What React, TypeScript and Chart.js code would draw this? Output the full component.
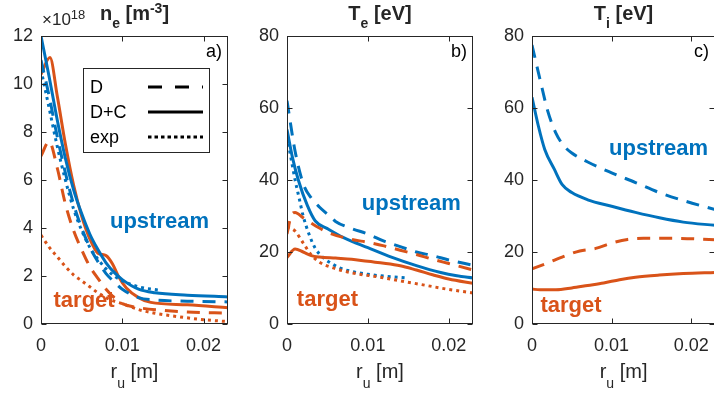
import React, { useEffect, useRef } from "react";
import { Chart, registerables } from "chart.js";

Chart.register(...registerables);

const BLUE = "#0072BD";
const ORANGE = "#D95319";
const INK = "#262626";
const FONT = "'Liberation Sans', Arial, Helvetica, sans-serif";

// shared x axis (r_u in m)
const X_MAX = 0.023;
const X_TICKS = [0, 0.01, 0.02];
const X_TICK_LABELS = ["0", "0.01", "0.02"];

const NE_TICKS = [0, 2, 4, 6, 8, 10, 12];
const NE_TICK_LABELS = ["0", "2", "4", "6", "8", "10", "12"];
const T_TICKS = [0, 20, 40, 60, 80];
const T_TICK_LABELS = ["0", "20", "40", "60", "80"];

// ---------- (a) n_e  [x 1e18 m^-3] ----------
const A_UP_D_X = [0, 0.001, 0.002, 0.003, 0.004, 0.005, 0.006, 0.007, 0.008, 0.009, 0.010, 0.012, 0.014, 0.018, 0.023];
const A_UP_D_Y = [11.0, 9.5, 7.8, 6.3, 5.0, 4.0, 3.2, 2.6, 2.1, 1.75, 1.45, 1.1, 1.0, 0.95, 0.92];
const A_UP_DC_X = [0, 0.001, 0.002, 0.003, 0.004, 0.005, 0.006, 0.007, 0.008, 0.009, 0.010, 0.012, 0.014, 0.018, 0.023];
const A_UP_DC_Y = [12.0, 10.3, 8.5, 6.9, 5.6, 4.6, 3.75, 3.1, 2.55, 2.15, 1.85, 1.45, 1.3, 1.2, 1.13];
const A_UP_EXP_X = [0, 0.001, 0.002, 0.003, 0.004, 0.005, 0.006, 0.007, 0.008, 0.009, 0.010, 0.012, 0.0148];
const A_UP_EXP_Y = [10.6, 9.0, 7.4, 6.0, 4.8, 3.9, 3.2, 2.7, 2.3, 2.0, 1.8, 1.55, 1.4];
const A_TG_D_X = [0, 0.001, 0.002, 0.003, 0.004, 0.005, 0.006, 0.007, 0.008, 0.009, 0.010, 0.012, 0.015, 0.018, 0.023];
const A_TG_D_Y = [7.0, 7.6, 6.5, 5.0, 3.9, 3.1, 2.4, 1.9, 1.45, 1.1, 0.85, 0.68, 0.57, 0.5, 0.45];
const A_TG_DC_X = [0, 0.0011, 0.002, 0.003, 0.004, 0.005, 0.006, 0.007, 0.008, 0.0088, 0.0095, 0.0105, 0.012, 0.0135, 0.018, 0.023];
const A_TG_DC_Y = [10.4, 11.1, 9.5, 7.5, 5.8, 4.5, 3.55, 2.95, 2.85, 2.5, 2.0, 1.5, 1.1, 0.9, 0.8, 0.68];
const A_TG_EXP_X = [0, 0.001, 0.002, 0.003, 0.004, 0.005, 0.006, 0.007, 0.008, 0.009, 0.010, 0.012, 0.014, 0.017, 0.020, 0.023];
const A_TG_EXP_Y = [3.7, 3.2, 2.8, 2.4, 2.05, 1.8, 1.55, 1.3, 1.1, 0.95, 0.85, 0.6, 0.45, 0.3, 0.18, 0.1];

// ---------- (b) T_e [eV] ----------
const B_UP_D_X = [0, 0.001, 0.002, 0.003, 0.004, 0.005, 0.006, 0.008, 0.010, 0.012, 0.014, 0.016, 0.018, 0.020, 0.023];
const B_UP_D_Y = [62, 48, 39, 35, 32.5, 30.5, 28.5, 26.5, 25, 23, 21.5, 20, 19, 17.8, 16.3];
const B_UP_DC_X = [0, 0.0007, 0.0014, 0.0025, 0.0035, 0.005, 0.007, 0.010, 0.013, 0.016, 0.019, 0.021, 0.023];
const B_UP_DC_Y = [54, 46, 40, 33, 28.6, 26.5, 24, 21.2, 18.5, 16.2, 14.3, 13.4, 12.8];
const B_UP_EXP_X = [0, 0.0005, 0.001, 0.0015, 0.002, 0.0028, 0.0035, 0.0045, 0.0055, 0.0065, 0.008, 0.010, 0.012, 0.0148];
const B_UP_EXP_Y = [52, 46, 40, 35, 30, 24.5, 21, 18.4, 16.8, 15.6, 14.6, 13.8, 13.3, 12.8];
const B_TG_D_X = [0, 0.0005, 0.001, 0.002, 0.003, 0.005, 0.008, 0.010, 0.012, 0.014, 0.016, 0.018, 0.020, 0.023];
const B_TG_D_Y = [25, 30, 31, 29.5, 28, 25.5, 23.5, 22.7, 21.7, 20.5, 19.3, 18, 16.8, 15];
const B_TG_DC_X = [0, 0.001, 0.002, 0.003, 0.004, 0.006, 0.008, 0.010, 0.012, 0.014, 0.016, 0.018, 0.020, 0.023];
const B_TG_DC_Y = [18.5, 20.8, 20, 19, 18.6, 18.3, 18, 17.4, 16.9, 16.2, 15, 13.7, 12.5, 11.3];
const B_TG_EXP_X = [0, 0.001, 0.002, 0.003, 0.004, 0.0057, 0.008, 0.0115, 0.014, 0.017, 0.020, 0.023];
const B_TG_EXP_Y = [27, 25.8, 22.5, 19.2, 17.2, 15.6, 14.2, 13, 12, 10.8, 9.6, 8.6];

// ---------- (c) T_i [eV] ----------
const C_UP_D_X = [0, 0.001, 0.002, 0.003, 0.004, 0.005, 0.007, 0.010, 0.013, 0.016, 0.019, 0.023];
const C_UP_D_Y = [77.5, 68, 59, 53, 49.5, 47.5, 45, 42, 39.3, 36.5, 34.3, 31.8];
const C_UP_DC_X = [0, 0.0008, 0.0016, 0.0028, 0.0038, 0.005, 0.007, 0.010, 0.013, 0.016, 0.019, 0.023];
const C_UP_DC_Y = [63, 55, 48.5, 43, 38.7, 36.5, 34.5, 32.7, 31, 29.5, 28.3, 27.4];
const C_TG_D_X = [0, 0.002, 0.004, 0.006, 0.008, 0.010, 0.012, 0.014, 0.018, 0.023];
const C_TG_D_Y = [15.3, 17, 18.8, 20.3, 21, 22.5, 23.5, 23.8, 23.8, 23.4];
const C_TG_DC_X = [0, 0.001, 0.003, 0.005, 0.007, 0.009, 0.011, 0.013, 0.016, 0.019, 0.023];
const C_TG_DC_Y = [9.7, 9.5, 9.5, 10, 10.7, 11.4, 12.3, 13, 13.6, 14, 14.3];

const LEGEND_LABELS = ["D", "D+C", "exp"];
const LEGEND_STYLES = ["D", "DC", "exp"];

type Style = "D" | "DC" | "exp";
const DASH: Record<Style, number[]> = { D: [13, 9], DC: [], exp: [3, 4] };
const LEGEND_DASH: Record<Style, number[]> = { D: [14, 13], DC: [], exp: [3.5, 3] };

type Series = { x: number[]; y: number[]; color: string; style: Style };
type Seg = { t: string; size: number; bold?: boolean; dy?: number; color?: string };
type Ann = { text: string; x: number; y: number; color: string };

type Panel = {
  left: number;
  width: number;
  yAxisW: number;
  padRight: number;
  yMax: number;
  yTicks: number[];
  yTickLabels: string[];
  series: Series[];
  title: Seg[];
  tag: string;
  anns: Ann[];
  legend?: boolean;
  exponent?: boolean;
};

const PANELS: Panel[] = [
  {
    left: 0, width: 240, yAxisW: 41, padRight: 12, yMax: 12,
    yTicks: NE_TICKS, yTickLabels: NE_TICK_LABELS,
    series: [
      { x: A_TG_D_X, y: A_TG_D_Y, color: ORANGE, style: "D" },
      { x: A_TG_EXP_X, y: A_TG_EXP_Y, color: ORANGE, style: "exp" },
      { x: A_UP_D_X, y: A_UP_D_Y, color: BLUE, style: "D" },
      { x: A_UP_EXP_X, y: A_UP_EXP_Y, color: BLUE, style: "exp" },
      { x: A_UP_DC_X, y: A_UP_DC_Y, color: BLUE, style: "DC" },
      { x: A_TG_DC_X, y: A_TG_DC_Y, color: ORANGE, style: "DC" },
    ],
    title: [
      { t: "n", size: 20, bold: true },
      { t: "e", size: 14, bold: true, dy: 8 },
      { t: " [m", size: 20, bold: true },
      { t: "-3", size: 14, bold: true, dy: -7 },
      { t: "]", size: 20, bold: true },
    ],
    tag: "a)",
    anns: [
      { text: "upstream", x: 0.01457, y: 4.0, color: BLUE },
      { text: "target", x: 0.0053, y: 0.7, color: ORANGE },
    ],
    legend: true,
    exponent: true,
  },
  {
    left: 240, width: 240, yAxisW: 47, padRight: 7, yMax: 80,
    yTicks: T_TICKS, yTickLabels: T_TICK_LABELS,
    series: [
      { x: B_TG_D_X, y: B_TG_D_Y, color: ORANGE, style: "D" },
      { x: B_TG_EXP_X, y: B_TG_EXP_Y, color: ORANGE, style: "exp" },
      { x: B_TG_DC_X, y: B_TG_DC_Y, color: ORANGE, style: "DC" },
      { x: B_UP_D_X, y: B_UP_D_Y, color: BLUE, style: "D" },
      { x: B_UP_EXP_X, y: B_UP_EXP_Y, color: BLUE, style: "exp" },
      { x: B_UP_DC_X, y: B_UP_DC_Y, color: BLUE, style: "DC" },
    ],
    title: [
      { t: "T", size: 20, bold: true },
      { t: "e", size: 14, bold: true, dy: 8 },
      { t: " [eV]", size: 20, bold: true },
    ],
    tag: "b)",
    anns: [
      { text: "upstream", x: 0.01537, y: 31.7, color: BLUE },
      { text: "target", x: 0.005, y: 5, color: ORANGE },
    ],
  },
  {
    left: 480, width: 240, yAxisW: 52, padRight: 2, yMax: 80,
    yTicks: T_TICKS, yTickLabels: T_TICK_LABELS,
    series: [
      { x: C_TG_D_X, y: C_TG_D_Y, color: ORANGE, style: "D" },
      { x: C_TG_DC_X, y: C_TG_DC_Y, color: ORANGE, style: "DC" },
      { x: C_UP_D_X, y: C_UP_D_Y, color: BLUE, style: "D" },
      { x: C_UP_DC_X, y: C_UP_DC_Y, color: BLUE, style: "DC" },
    ],
    title: [
      { t: "T", size: 20, bold: true },
      { t: "i", size: 14, bold: true, dy: 8 },
      { t: " [eV]", size: 20, bold: true },
    ],
    tag: "c)",
    anns: [
      { text: "upstream", x: 0.0159, y: 46.9, color: BLUE },
      { text: "target", x: 0.0049, y: 3.3, color: ORANGE },
    ],
  },
];

const XLABEL: Seg[] = [
  { t: "r", size: 20 },
  { t: "u", size: 14, dy: 10 },
  { t: " [m]", size: 20 },
];

function font(size: number, bold?: boolean) {
  return `${bold ? "bold " : ""}${size}px ${FONT}`;
}

function drawRich(ctx: CanvasRenderingContext2D, segs: Seg[], x: number, y: number, align: "center" | "left") {
  const widths = segs.map((s) => {
    ctx.font = font(s.size, s.bold);
    return ctx.measureText(s.t).width;
  });
  const total = widths.reduce((a, b) => a + b, 0);
  let cx = align === "center" ? x - total / 2 : x;
  ctx.textAlign = "left";
  ctx.textBaseline = "alphabetic";
  segs.forEach((s, i) => {
    ctx.font = font(s.size, s.bold);
    ctx.fillStyle = s.color || INK;
    ctx.fillText(s.t, cx, y + (s.dy || 0));
    cx += widths[i];
  });
}

function decorPlugin(p: Panel) {
  return {
    id: "decor",
    afterDraw(chart: any) {
      const ctx: CanvasRenderingContext2D = chart.ctx;
      const ca = chart.chartArea;
      const xs = chart.scales.x;
      const ys = chart.scales.y;
      ctx.save();
      // annotations
      p.anns.forEach((a) => {
        ctx.font = font(22, true);
        ctx.fillStyle = a.color;
        ctx.textAlign = "center";
        ctx.textBaseline = "alphabetic";
        ctx.fillText(a.text, xs.getPixelForValue(a.x), ys.getPixelForValue(a.y));
      });
      // box
      ctx.strokeStyle = INK;
      ctx.lineWidth = 1;
      ctx.setLineDash([]);
      const L = Math.round(ca.left) + 0.5;
      const R = Math.round(ca.right) - 0.5;
      const T = Math.round(ca.top) + 0.5;
      const B = Math.round(ca.bottom) - 0.5;
      ctx.strokeRect(L, T, R - L, B - T);
      ctx.beginPath();
      X_TICKS.forEach((v) => {
        const px = Math.round(xs.getPixelForValue(v)) + 0.5;
        ctx.moveTo(px, B); ctx.lineTo(px, B - 5);
        ctx.moveTo(px, T); ctx.lineTo(px, T + 5);
      });
      p.yTicks.forEach((v) => {
        const py = Math.round(ys.getPixelForValue(v)) + 0.5;
        ctx.moveTo(L, py); ctx.lineTo(L + 5, py);
        ctx.moveTo(R, py); ctx.lineTo(R - 5, py);
      });
      ctx.stroke();
      // title
      const mid = (ca.left + ca.right) / 2;
      drawRich(ctx, p.title, mid, 20, "center");
      // x label
      drawRich(ctx, XLABEL, mid, 378, "center");
      // panel tag
      ctx.font = font(18);
      ctx.fillStyle = "#000";
      ctx.textAlign = "right";
      ctx.textBaseline = "alphabetic";
      ctx.fillText(p.tag, ca.right - 6, ca.top + 21);
      // exponent
      if (p.exponent) {
        drawRich(ctx, [
          { t: "\u00d710", size: 17 },
          { t: "18", size: 13, dy: -6 },
        ], ca.left + 1, 25, "left");
      }
      // legend
      if (p.legend) {
        const lx = ca.left + 42, ly = ca.top + 32, lw = 126, lh = 84;
        ctx.fillStyle = "#fff";
        ctx.fillRect(lx, ly, lw, lh);
        ctx.strokeStyle = INK;
        ctx.lineWidth = 1;
        ctx.strokeRect(lx + 0.5, ly + 0.5, lw, lh);
        LEGEND_LABELS.forEach((lab, i) => {
          const cy = ly + 19 + i * 25;
          ctx.font = font(18);
          ctx.fillStyle = "#000";
          ctx.textAlign = "left";
          ctx.textBaseline = "alphabetic";
          ctx.fillText(lab, lx + 7, cy + 6);
          ctx.beginPath();
          ctx.strokeStyle = "#000";
          ctx.lineWidth = 3;
          ctx.lineCap = "butt";
          ctx.setLineDash(LEGEND_DASH[LEGEND_STYLES[i] as Style]);
          ctx.moveTo(lx + 65, cy);
          ctx.lineTo(lx + 120, cy);
          ctx.stroke();
          ctx.setLineDash([]);
        });
      }
      ctx.restore();
    },
  };
}

function buildConfig(p: Panel): any {
  const tickFont = { family: FONT, size: 18 };
  return {
    type: "line",
    data: {
      datasets: p.series.map((s) => ({
        data: s.x.map((x, i) => ({ x, y: s.y[i] })),
        borderColor: s.color,
        backgroundColor: s.color,
        borderWidth: 3,
        borderDash: DASH[s.style],
        borderCapStyle: "butt",
        pointRadius: 0,
        fill: false,
        cubicInterpolationMode: "monotone",
      })),
    },
    options: {
      responsive: false,
      animation: false,
      devicePixelRatio: 1,
      events: [],
      layout: { padding: { left: 0, top: 36, right: p.padRight, bottom: 0 } },
      plugins: { legend: { display: false }, tooltip: { enabled: false }, title: { display: false } },
      scales: {
        x: {
          type: "linear",
          min: 0,
          max: X_MAX,
          grid: { display: false, drawTicks: false },
          border: { display: false },
          ticks: {
            font: tickFont,
            color: INK,
            padding: 11,
            maxRotation: 0,
            autoSkip: false,
            callback: (_v: number, i: number) => X_TICK_LABELS[i],
          },
          afterBuildTicks: (s: any) => {
            s.ticks = X_TICKS.map((v) => ({ value: v }));
          },
          afterFit: (s: any) => {
            s.height = 72;
          },
        },
        y: {
          type: "linear",
          min: 0,
          max: p.yMax,
          grid: { display: false, drawTicks: false },
          border: { display: false },
          ticks: {
            font: tickFont,
            color: INK,
            padding: 8,
            autoSkip: false,
            callback: (_v: number, i: number) => p.yTickLabels[i],
          },
          afterBuildTicks: (s: any) => {
            s.ticks = p.yTicks.map((v) => ({ value: v }));
          },
          afterFit: (s: any) => {
            s.width = p.yAxisW;
          },
        },
      },
    },
    plugins: [decorPlugin(p)],
  };
}

function PanelChart({ p }: { p: Panel }) {
  const ref = useRef<HTMLCanvasElement | null>(null);
  useEffect(() => {
    if (!ref.current) return;
    const chart = new Chart(ref.current, buildConfig(p));
    return () => chart.destroy();
  }, [p]);
  return (
    <canvas
      ref={ref}
      width={p.width}
      height={396}
      style={{ position: "absolute", left: p.left, top: 0, width: p.width, height: 396 }}
    />
  );
}

export default function App() {
  return (
    <div
      style={{
        position: "fixed",
        left: 0,
        top: 0,
        width: 714,
        height: 396,
        overflow: "hidden",
        background: "#fff",
      }}
    >
      {PANELS.map((p, i) => (
        <PanelChart key={i} p={p} />
      ))}
    </div>
  );
}
